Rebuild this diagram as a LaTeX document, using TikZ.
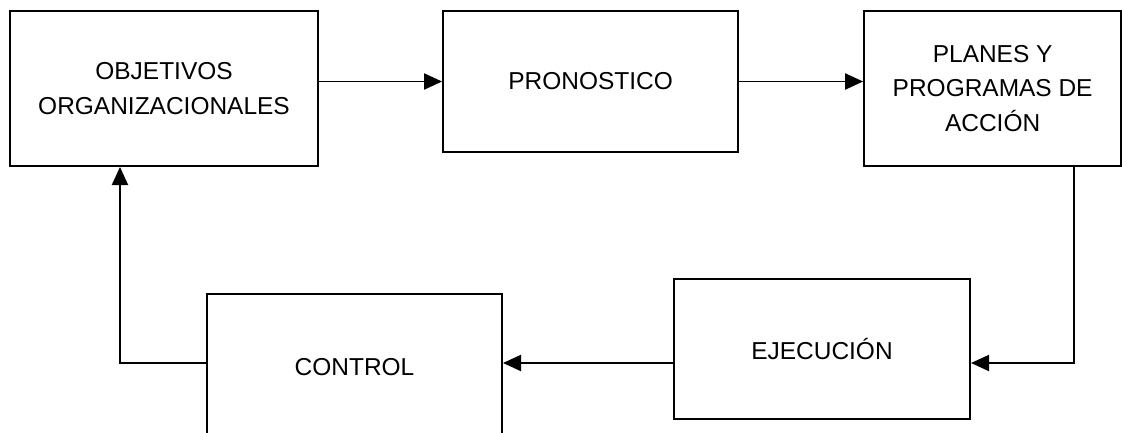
\documentclass[tikz,border=0pt]{standalone}
\usepackage{fontspec}
\setmainfont{Liberation Sans}
\usetikzlibrary{arrows.meta, positioning, calc}

\begin{document}
\begin{tikzpicture}[
  x=0.025cm, y=-0.025cm,
  every node/.style={font=\fontsize{17.4}{24.6}\selectfont, align=center},
  bloque/.style={draw, rectangle, line width=1.4pt, inner sep=0pt},
  flecha/.style={line width=1.4pt, -{Triangle[length=12.8pt, width=11.4pt]}}
]
\useasboundingbox (0,0) rectangle (1122,433);

% fila de arriba
\node[bloque, minimum width=7.7cm, minimum height=3.875cm] (objetivos) at (164,88.5) {OBJETIVOS\\ORGANIZACIONALES};
\node[bloque, minimum width=7.375cm, minimum height=3.525cm, right=3.075cm of objetivos.north east, anchor=north west] (pronostico) {PRONOSTICO};
\node[bloque, minimum width=6.425cm, minimum height=3.875cm, right=3.1cm of pronostico.north east, anchor=north west] (planes) {PLANES Y\\PROGRAMAS DE\\ACCIÓN};

% fila de abajo (control queda cortado abajo)
\node[bloque, minimum width=7.4cm, minimum height=3.5cm] (ejecucion) at (822,349) {EJECUCIÓN};
\node[bloque, minimum width=7.375cm, minimum height=3.65cm, anchor=north] (control) at (354.5,293) {CONTROL};
\coordinate (nivel) at (0,363);

% conexiones
\draw[flecha] (objetivos.east |- pronostico.west) -- (pronostico.west);
\draw[flecha] (pronostico.east) -- (pronostico.east -| planes.west);
\draw[flecha] ($(planes.south east)+(-48,0)$) |- (ejecucion.east |- nivel);
\draw[flecha] (ejecucion.west |- nivel) -- (control.east |- nivel);
\draw[flecha] (control.west |- nivel) -| ($(objetivos.south west)+(111,0)$);
\end{tikzpicture}
\end{document}
